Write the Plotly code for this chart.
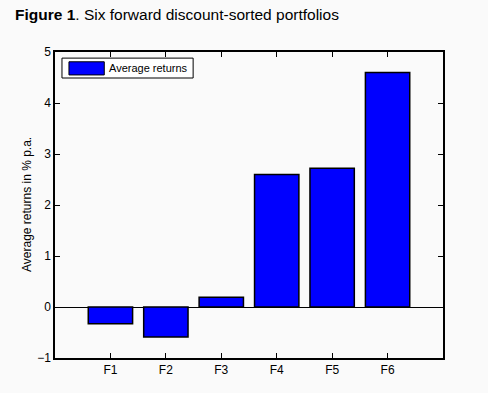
import plotly.graph_objects as go

categories = ["F1", "F2", "F3", "F4", "F5", "F6"]
avg_returns = [-0.33, -0.59, 0.19, 2.60, 2.72, 4.60]
series_name = "Average returns"
y_ticks = [-1, 0, 1, 2, 3, 4, 5]

BG = "#fafafa"
FONT = "Liberation Sans, Arial, sans-serif"

positions = list(range(1, len(categories) + 1))

fig = go.Figure()
fig.add_trace(go.Bar(
    x=positions, y=avg_returns, width=0.8, name=series_name,
    marker=dict(color="#0000ff", line=dict(color="black", width=1.5)),
    showlegend=False,
))

axis_common = dict(
    showline=True, linecolor="black", linewidth=1.5, mirror="ticks",
    ticks="inside", ticklen=5, tickcolor="black", tickwidth=1,
    showgrid=False, tickfont=dict(family=FONT, size=12, color="black"),
    automargin=False,
)
fig.update_xaxes(range=[0, 7], tickvals=positions, ticktext=categories,
                 zeroline=False, **axis_common)
fig.update_yaxes(range=[-1, 5], tickvals=y_ticks, zeroline=True, zerolinecolor="black",
                 zerolinewidth=1, **axis_common)

# y-axis title
fig.add_annotation(xref="paper", yref="paper", x=-28/388, y=0.5, textangle=-90,
                   text="Average returns in % p.a.", showarrow=False,
                   xanchor="center", yanchor="middle",
                   font=dict(family=FONT, size=12, color="black"))

# Legend box drawn manually (MATLAB style)
fig.add_shape(type="rect", xref="paper", yref="paper", x0=0.018, x1=0.356, y0=0.915, y1=0.98,
              line=dict(color="black", width=1), fillcolor="white", layer="above")
fig.add_shape(type="rect", xref="paper", yref="paper", x0=0.036, x1=0.127, y0=0.925, y1=0.968,
              line=dict(color="black", width=1), fillcolor="#0000ff", layer="above")
fig.add_annotation(xref="paper", yref="paper", x=0.133, y=0.947, text=series_name,
                   showarrow=False, xanchor="left", yanchor="middle",
                   font=dict(family=FONT, size=11, color="black"))

fig.add_annotation(xref="paper", yref="paper", x=-42/388, y=1 + 37/306,
                   text="<b>Figure 1</b>. Six forward discount-sorted portfolios",
                   showarrow=False, xanchor="left", yanchor="middle",
                   font=dict(family=FONT, size=15.5, color="black"))

fig.update_layout(
    width=488, height=393,
    margin=dict(l=55, r=45, t=52, b=35),
    paper_bgcolor=BG, plot_bgcolor=BG,
    font=dict(family=FONT, color="black"),
    bargap=0.2,
)

fig.write_html("out.html", config={"displayModeBar": False},
               post_script="document.body.style.margin='0';document.body.style.overflow='hidden';"
                           "document.body.style.background='#fafafa';")
